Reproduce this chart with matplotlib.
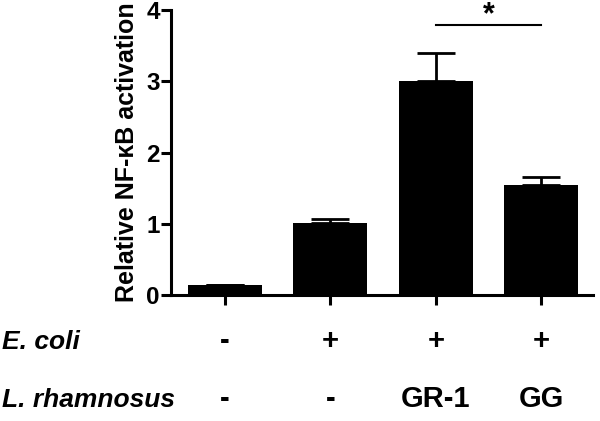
import matplotlib
matplotlib.use("Agg")
import matplotlib.pyplot as plt
from matplotlib.transforms import blended_transform_factory

plt.rcParams["font.family"] = ["Liberation Sans", "DejaVu Sans"]
plt.rcParams["font.weight"] = "bold"

# data
groups = ["ctrl", "E. coli", "E. coli + GR-1", "E. coli + GG"]
means = [0.14, 1.01, 3.01, 1.55]
errors = [0.0, 0.06, 0.39, 0.10]
ecoli_row = ["-", "+", "+", "+"]
rhamnosus_row = ["-", "-", "GR-1", "GG"]
yticks = [0, 1, 2, 3, 4]
sig_pair = (2, 3)
sig_level = 3.79

W, H = 600, 421
fig = plt.figure(figsize=(W / 100, H / 100), dpi=100)
ax = fig.add_axes([171 / W, 1 - 295 / H, 422 / W, 285 / H])

x = list(range(len(groups)))
ax.bar(x, means, width=0.7, color="black", zorder=2)
ax.errorbar(x, means, yerr=[[0] * len(errors), errors], fmt="none",
            ecolor="black", elinewidth=2, capsize=14, capthick=2, zorder=1)

ax.set_xlim(-0.51, 3.49)
ax.set_ylim(0, 4)
ax.set_yticks(yticks)
ax.set_yticklabels([str(t) for t in yticks], fontsize=17.5, fontweight="bold")
ax.set_xticks(x)
ax.set_xticklabels([])
ax.tick_params(axis="both", width=2.2, length=7, direction="out")
ax.tick_params(axis="y", pad=1)
for side in ("top", "right"):
    ax.spines[side].set_visible(False)
for side in ("left", "bottom"):
    ax.spines[side].set_linewidth(2.2)
ax.set_ylabel("Relative NF-\u03baB activation", fontsize=18, fontweight="bold", labelpad=5)

# significance bar
ax.plot(sig_pair, [sig_level, sig_level], color="black", lw=1.5, clip_on=False)
ax.text(sum(sig_pair) / 2, sig_level + 0.02, "*", ha="center", va="baseline",
        fontsize=22, fontweight="bold", clip_on=False)

# condition table below the axis
row1_y = 1 - 349 / H
row2_y = 1 - 407 / H
fig.text(2 / W, row1_y, "E. coli", fontsize=19, fontweight="bold",
         style="italic", va="baseline", ha="left")
fig.text(2 / W, row2_y, "L. rhamnosus", fontsize=19, fontweight="bold",
         style="italic", va="baseline", ha="left")
trans = blended_transform_factory(ax.transData, fig.transFigure)
for xi, a, b in zip(x, ecoli_row, rhamnosus_row):
    ax.text(xi, row1_y, a, transform=trans, fontsize=21, fontweight="bold",
            ha="center", va="baseline", clip_on=False)
    ax.text(xi, row2_y, b, transform=trans, fontsize=21, fontweight="bold",
            ha="center", va="baseline", clip_on=False)

fig.savefig("out.png", dpi=100)
